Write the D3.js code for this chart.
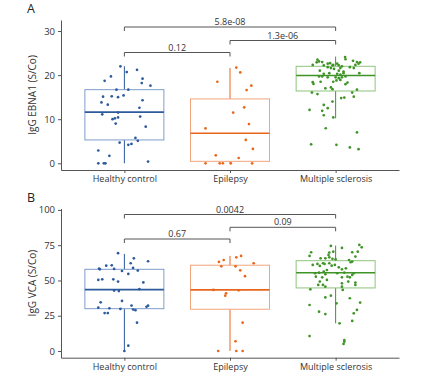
<!DOCTYPE html>
<html>
<head>
<meta charset="utf-8">
<script src="https://cdn.jsdelivr.net/npm/d3@7"></script>
<style>
  body { margin: 0; background: #fff; }
  svg { display: block; font-family: "Open Sans", sans-serif; }
</style>
</head>
<body>
<script>
const width = 435;
const height = 375;

const groups = ["Healthy control", "Epilepsy", "Multiple sclerosis"];

// panel A: IgG EBNA1 values and horizontal jitter (fraction of box width)
const ebnaHealthy = [22.0, 20.7, 21.2, 19.7, 18.7, 19.2, 18.2, 17.6, 16.7, 16.7, 15.1, 15.2, 15.0, 15.4, 13.8, 13.3, 14.3, 12.6, 11.1, 11.5, 10.0, 10.2, 10.4, 9.0, 10.6, 8.3, 5.75, 5.1, 4.7, 4.2, 4.4, 2.9, 1.7, 0, 0, 0, 0.4];
const ebnaHealthyJitter = [-0.05, 0.03, 0.16, -0.17, -0.25, 0.23, 0.22, 0.33, -0.1, 0.05, -0.27, -0.16, -0.08, -0.01, -0.29, -0.21, 0.23, 0.19, -0.28, -0.08, -0.15, -0.12, -0.08, -0.11, 0.2, 0.27, 0.14, 0.17, -0.06, 0.05, 0.09, -0.33, -0.19, -0.33, -0.26, -0.24, 0.3];
const ebnaEpilepsy = [21.7, 20.6, 18.5, 17.6, 16.6, 12.7, 11.5, 8.9, 7.9, 5.3, 3.25, 1.8, 1.2, 0, 0, 0, 0, 0];
const ebnaEpilepsyJitter = [0.08, 0.13, -0.16, 0.27, 0.21, 0.18, 0.04, 0.24, -0.31, 0.2, 0.29, -0.18, 0.11, -0.31, -0.13, -0.09, 0.01, 0.28];
const ebnaMS = [23.5, 22.9, 23.1, 22.95, 22.6, 22.7, 22.3, 22.6, 22.2, 24.1, 23.6, 23.25, 22.95, 22.6, 22.9, 22.3, 22.3, 22.2, 22.2, 22.0, 21.6, 21.4, 21.8, 21.6, 21.8, 21.6, 21.0, 21.0, 20.8, 20.3, 20.45, 20.45, 20.3, 20.1, 20.45, 19.7, 19.7, 19.5, 19.5, 19.3, 19.5, 19.7, 18.5, 18.8, 18.9, 18.3, 18.4, 18.0, 18.5, 17.95, 17.0, 17.2, 16.8, 16.7, 16.05, 15.7, 16.05, 15.1, 14.0, 14.8, 14.9, 13.25, 12.5, 12.1, 11.9, 10.9, 10.4, 7.95, 7.0, 4.3, 4.2, 3.6, 3.2];
const ebnaMSJitter = [-0.23, -0.24, -0.21, -0.17, -0.1, -0.07, -0.03, 0.02, 0.04, 0.12, 0.125, 0.22, 0.27, 0.29, 0.31, 0.25, -0.29, -0.15, -0.04, 0.08, 0.06, -0.02, -0.1, -0.06, 0.18, 0.23, -0.2, 0.04, 0.1, -0.15, -0.08, 0.3, 0.02, 0.06, 0.1, -0.21, -0.17, -0.1, 0, 0.04, 0.08, 0.125, -0.03, 0.01, 0.06, 0.15, -0.29, -0.28, -0.19, 0.125, -0.13, -0.06, -0.04, 0.27, -0.3, -0.23, 0.21, 0.23, -0.04, 0.07, 0.11, -0.15, -0.1, -0.33, -0.17, -0.15, -0.03, -0.125, 0.27, -0.31, 0.01, 0.18, 0.29];
// [whisker low, q1, median, q3, whisker high]
const ebnaBoxes = [[0, 5.3, 11.6, 16.7, 22.0], [0, 0.45, 6.8, 14.6, 21.6], [10.2, 16.4, 19.9, 22.0, 24.2]];
const ebnaTicks = [0, 10, 20, 30];

// panel B: IgG VCA
const vcaHealthy = [69.3, 65.7, 62.2, 63.6, 60.5, 60.7, 58.4, 57.9, 58.2, 58.9, 57.0, 56.7, 54.6, 50.4, 50.8, 50.8, 49.2, 48.6, 42.8, 42.5, 43.9, 34.5, 35.5, 30.7, 30.3, 29.8, 32.2, 29.4, 28.9, 31.3, 32.1, 26.9, 26.9, 20.1, 3.8, 0];
const vcaHealthyJitter = [-0.08, 0.12, 0.08, 0.3, -0.23, -0.16, -0.32, -0.31, -0.13, 0.11, 0.17, -0.03, 0.05, -0.33, -0.28, -0.14, -0.08, 0.24, -0.13, -0.07, 0.19, -0.3, -0.03, -0.33, -0.19, -0.05, 0.09, 0.11, 0.14, 0.28, 0.3, -0.25, -0.21, 0.16, 0.05, 0];
const vcaEpilepsy = [66.4, 67.4, 64.5, 63.1, 60.0, 60.0, 62.2, 57.2, 53.0, 43.3, 43.0, 40.9, 39.2, 20.1, 6.9, 0, 0, 0];
const vcaEpilepsyJitter = [0.08, 0.14, -0.08, -0.14, -0.11, 0.07, 0.3, 0.13, 0.19, -0.21, 0.11, -0.05, -0.06, 0.16, 0.07, -0.15, 0.08, 0.16];
const vcaMS = [74.5, 73.05, 75.2, 73.5, 70.0, 67.4, 68.1, 69.8, 70.4, 70.0, 70.4, 66.9, 65.7, 65.7, 66.4, 65.3, 65.0, 64.5, 62.9, 63.4, 61.0, 61.7, 60.3, 62.2, 61.7, 62.2, 60.5, 61.0, 59.3, 57.9, 58.6, 55.1, 55.5, 56.3, 57.4, 54.4, 55.1, 55.5, 52.7, 53.9, 55.1, 52.7, 52.2, 52.2, 52.2, 50.4, 49.2, 46.8, 46.8, 48.0, 49.2, 48.5, 46.8, 43.7, 45.6, 45.6, 43.3, 38.0, 39.2, 37.4, 33.8, 34.3, 32.6, 29.1, 27.9, 26.2, 26.7, 19.6, 21.3, 10.6, 7.8, 6.6, 5.0];
const vcaMSJitter = [-0.06, 0.08, 0.3, 0.33, -0.31, -0.33, -0.09, -0.08, -0.03, 0.21, 0.28, 0.25, -0.19, -0.13, -0.08, -0.04, 0, 0.17, 0.19, 0.21, -0.29, -0.23, -0.2, -0.16, -0.14, -0.08, -0.05, -0.01, 0.04, 0.08, 0.13, -0.26, -0.21, -0.15, -0.11, -0.13, 0.02, 0.11, 0.15, 0.21, 0.23, -0.25, -0.17, 0.08, 0.18, -0.11, -0.2, -0.22, -0.16, 0.08, 0.16, 0.25, 0.25, -0.32, -0.13, 0.08, 0.09, -0.13, -0.06, 0.18, 0.01, 0.31, -0.33, 0.27, -0.21, -0.13, 0.23, 0.05, 0.21, -0.33, 0.11, 0.11, 0.1];
const vcaBoxes = [[0, 30.0, 43.5, 57.9, 68.8], [0, 29.6, 43.3, 60.8, 67.4], [19.6, 44.7, 55.5, 64.0, 74.7]];
const vcaTicks = [0, 25, 50, 75, 100];

// comparisons: [from group, to group, label]
const ebnaComparisons = [[0, 2, "5.8e-08"], [1, 2, "1.3e-06"], [0, 1, "0.12"]];
const vcaComparisons = [[0, 2, "0.0042"], [1, 2, "0.09"], [0, 1, "0.67"]];

const darkColors = ["#2c5a9c", "#e8661c", "#3f9428"];
const lightColors = ["#7f9dca", "#f2a47c", "#8ec47c"];

const svg = d3.select("body").append("svg")
  .attr("width", width)
  .attr("height", height);

const x = d3.scalePoint().domain(groups).range([61, 399]).padding(0.6);
const boxWidth = 79;

function drawPanel({ letter, title, top, bottom, domain, ticks, values, jitters, boxes, comparisons, bracketY }) {
  const y = d3.scaleLinear().domain(domain).range([bottom, top]);
  const g = svg.append("g");

  g.append("text")
    .attr("x", 27)
    .attr("y", top - 7)
    .attr("font-size", 12.5)
    .attr("fill", "#222")
    .text(letter);

  const yAxis = g.append("g")
    .attr("transform", "translate(61,0)")
    .call(d3.axisLeft(y).tickValues(ticks).tickSize(3).tickSizeOuter(0));
  const xAxis = g.append("g")
    .attr("transform", `translate(0,${bottom})`)
    .call(d3.axisBottom(x).tickSize(3).tickSizeOuter(0));
  [yAxis, xAxis].forEach(a => {
    a.selectAll("path, line").attr("stroke", "#555");
    a.selectAll("text").attr("fill", "#333").attr("font-size", 9).attr("font-family", "Open Sans");
  });
  yAxis.selectAll("text").attr("font-size", 9.5);

  g.append("text")
    .attr("transform", `translate(36,${(top + bottom) / 2}) rotate(-90)`)
    .attr("text-anchor", "middle")
    .attr("font-size", 10)
    .attr("fill", "#333")
    .text(title);

  groups.forEach((name, i) => {
    const cx = x(name);
    const [lo, q1, med, q3, hi] = boxes[i];
    g.append("line")
      .attr("x1", cx).attr("x2", cx)
      .attr("y1", y(q3)).attr("y2", y(hi))
      .attr("stroke", darkColors[i]).attr("stroke-width", 1);
    g.append("line")
      .attr("x1", cx).attr("x2", cx)
      .attr("y1", y(q1)).attr("y2", y(lo))
      .attr("stroke", darkColors[i]).attr("stroke-width", 1);
    g.append("rect")
      .attr("x", cx - boxWidth / 2)
      .attr("y", y(q3))
      .attr("width", boxWidth)
      .attr("height", y(q1) - y(q3))
      .attr("fill", "none")
      .attr("stroke", lightColors[i])
      .attr("stroke-width", 1);
    g.append("line")
      .attr("x1", cx - boxWidth / 2).attr("x2", cx + boxWidth / 2)
      .attr("y1", y(med)).attr("y2", y(med))
      .attr("stroke", darkColors[i]).attr("stroke-width", 1.6);

    g.append("g")
      .selectAll("circle")
      .data(values[i])
      .join("circle")
      .attr("cx", (d, j) => cx + jitters[i][j] * boxWidth)
      .attr("cy", d => y(d))
      .attr("r", 1.35)
      .attr("fill", darkColors[i]);
  });

  comparisons.forEach(([a, b, label], k) => {
    const x1 = x(groups[a]);
    const x2 = x(groups[b]);
    const by = bracketY[k];
    g.append("path")
      .attr("d", `M${x1},${by + 4}V${by}H${x2}V${by + 4}`)
      .attr("fill", "none")
      .attr("stroke", "#555")
      .attr("stroke-width", 1);
    g.append("text")
      .attr("x", (x1 + x2) / 2)
      .attr("y", by - 2)
      .attr("text-anchor", "middle")
      .attr("font-size", 9)
      .attr("fill", "#333")
      .text(label);
  });
}

drawPanel({
  letter: "A",
  title: "IgG EBNA1 (S/Co)",
  top: 20,
  bottom: 170,
  domain: [-1.52, 32.5],
  ticks: ebnaTicks,
  values: [ebnaHealthy, ebnaEpilepsy, ebnaMS],
  jitters: [ebnaHealthyJitter, ebnaEpilepsyJitter, ebnaMSJitter],
  boxes: ebnaBoxes,
  comparisons: ebnaComparisons,
  bracketY: [27, 40.5, 52.5]
});

drawPanel({
  letter: "B",
  title: "IgG VCA (S/Co)",
  top: 208.5,
  bottom: 357.7,
  domain: [-4.75, 101],
  ticks: vcaTicks,
  values: [vcaHealthy, vcaEpilepsy, vcaMS],
  jitters: [vcaHealthyJitter, vcaEpilepsyJitter, vcaMSJitter],
  boxes: vcaBoxes,
  comparisons: vcaComparisons,
  bracketY: [214.5, 227.3, 239]
});
</script>
</body>
</html>
